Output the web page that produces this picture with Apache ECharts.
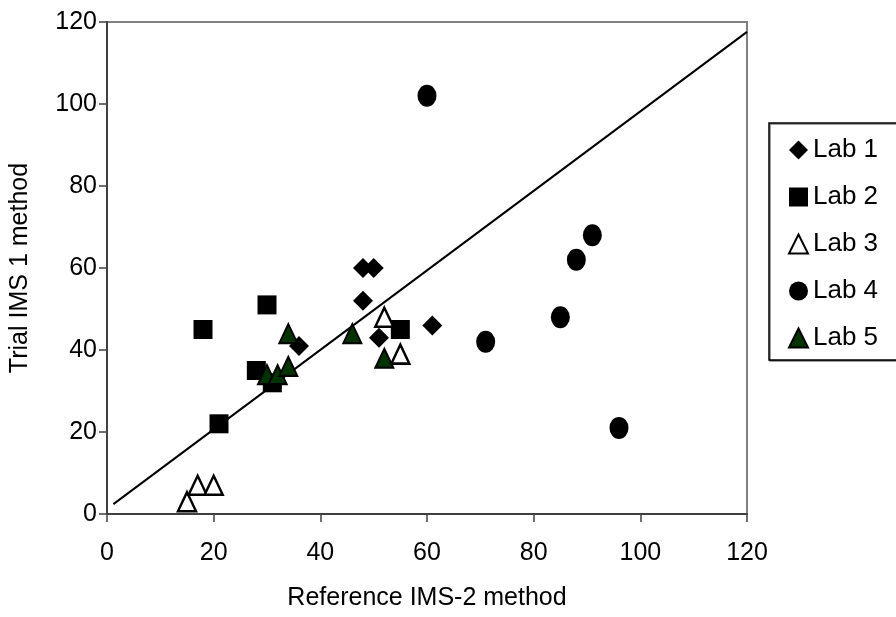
<!DOCTYPE html>
<html>
<head>
<meta charset="utf-8">
<script src="https://cdn.jsdelivr.net/npm/echarts@6/dist/echarts.min.js"></script>
<style>html,body{margin:0;padding:0;background:#fff}#c{width:896px;height:617px}</style>
</head>
<body>
<div id="c"></div>
<script>
var seriesNames = ['Lab 1', 'Lab 2', 'Lab 3', 'Lab 4', 'Lab 5'];
var lab1 = [[48, 60], [50, 60], [48, 52], [36, 41], [51, 43], [61, 46]];
var lab2 = [[18, 45], [30, 51], [28, 35], [31, 32], [21, 22], [55, 45]];
var lab3 = [[15, 3], [17, 7], [20, 7], [52, 48], [55, 39]];
var lab4 = [[60, 102], [91, 68], [88, 62], [85, 48], [71, 42], [96, 21]];
var lab5 = [[34, 44], [30, 34], [32, 34], [34, 36], [46, 44], [52, 38]];
var trendLine = [[1.2, 2.4], [120, 117.6]];
var xTicks = [0, 20, 40, 60, 80, 100, 120];
var yTicks = [0, 20, 40, 60, 80, 100, 120];

var FONT = '"Liberation Sans", Arial, sans-serif';
var chart = echarts.init(document.getElementById('c'));
chart.setOption({
  backgroundColor: '#fff',
  animation: false,
  grid: {
    left: 107, right: 149, top: 22, bottom: 103,
    show: true, borderColor: '#808080', borderWidth: 2, backgroundColor: 'transparent'
  },
  legend: {
    orient: 'vertical',
    left: 769, top: 123,
    padding: [12, 30, 7, 19],
    itemGap: 17,
    itemWidth: 19, itemHeight: 19,
    borderColor: '#000', borderWidth: 1.5,
    backgroundColor: '#fff',
    shadowColor: 'rgba(0,0,0,0.5)', shadowOffsetX: 1, shadowOffsetY: 1,
    textStyle: { fontFamily: FONT, fontSize: 26, color: '#000', lineHeight: 30 },
    data: seriesNames
  },
  xAxis: {
    type: 'value', min: xTicks[0], max: xTicks[xTicks.length - 1], interval: 20,
    name: 'Reference IMS-2 method', nameLocation: 'middle', nameGap: 72,
    nameTextStyle: { fontFamily: FONT, fontSize: 25, color: '#000' },
    axisLine: { show: true, lineStyle: { color: '#404040', width: 2 } },
    axisTick: { show: true, length: 8, lineStyle: { color: '#404040', width: 1.5 } },
    axisLabel: { fontFamily: FONT, fontSize: 25, color: '#000', margin: 27 },
    splitLine: { show: false }
  },
  yAxis: {
    type: 'value', min: yTicks[0], max: yTicks[yTicks.length - 1], interval: 20,
    name: 'Trial IMS 1 method', nameLocation: 'middle', nameGap: 74, nameRotate: 90,
    nameTextStyle: { fontFamily: FONT, fontSize: 25, color: '#000' },
    axisLine: { show: true, lineStyle: { color: '#404040', width: 2 } },
    axisTick: { show: true, length: 8, lineStyle: { color: '#404040', width: 1.5 } },
    axisLabel: { fontFamily: FONT, fontSize: 25, color: '#000', margin: 10 },
    splitLine: { show: false }
  },
  series: [
    { name: 'Lab 1', type: 'scatter', data: lab1, symbol: 'diamond', symbolSize: [20, 20],
      itemStyle: { color: '#000', opacity: 1 } },
    { name: 'Lab 2', type: 'scatter', data: lab2, symbol: 'rect', symbolSize: [19, 19],
      itemStyle: { color: '#000', opacity: 1 } },
    { name: 'Lab 3', type: 'scatter', data: lab3, symbol: 'triangle', symbolSize: [18, 19],
      itemStyle: { color: '#fff', borderColor: '#000', borderWidth: 2.5, opacity: 1 } },
    { name: 'Lab 4', type: 'scatter', data: lab4, symbol: 'circle', symbolSize: [19, 22],
      itemStyle: { color: '#000', opacity: 1 } },
    { name: 'Lab 5', type: 'scatter', data: lab5, symbol: 'triangle', symbolSize: [18, 19],
      itemStyle: { color: '#003300', borderColor: '#000', borderWidth: 2, opacity: 1 } },
    { name: 'trend', type: 'line', data: trendLine, symbol: 'none', silent: true,
      lineStyle: { color: '#000', width: 2 }, z: 1 }
  ]
});
</script>
</body>
</html>
